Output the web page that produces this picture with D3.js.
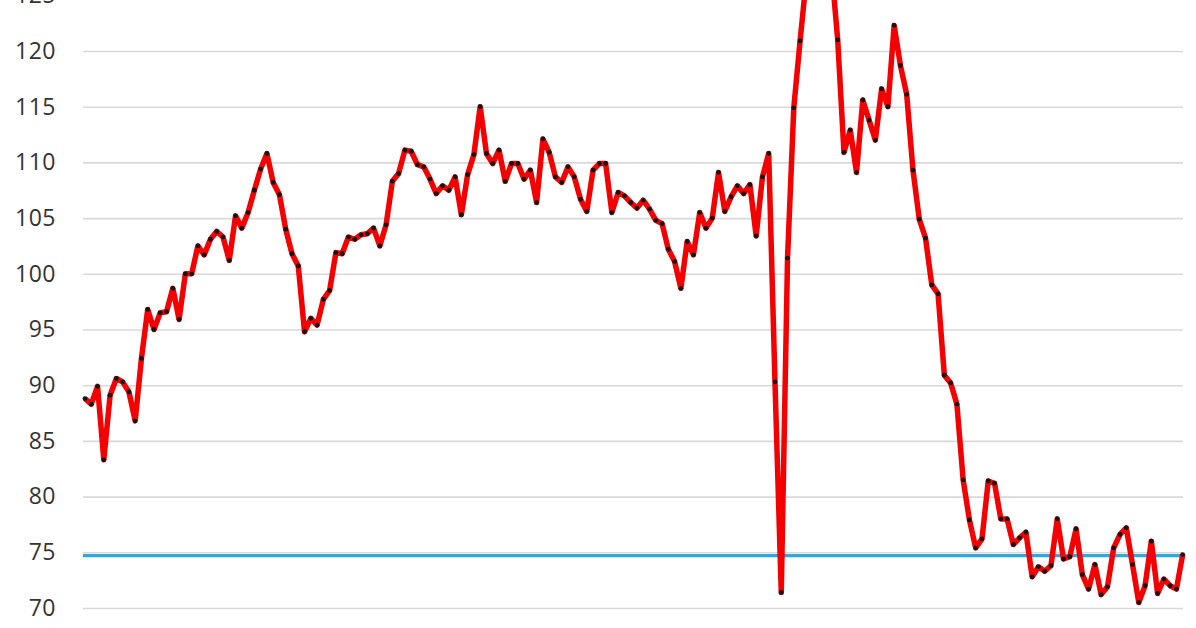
<!DOCTYPE html>
<html>
<head>
<meta charset="utf-8">
<script src="https://cdn.jsdelivr.net/npm/d3@7"></script>
<style>
  html,body{margin:0;padding:0;background:#fff;overflow:hidden;}
  svg{display:block;}
  .grid line{stroke:#d9d9d9;stroke-width:1.6;}
  .grid text{font-family:"Open Sans",sans-serif;font-size:23px;fill:#333;letter-spacing:0.5px;}
</style>
</head>
<body>
<svg width="1196" height="628"></svg>
<script>
// monthly index values (points 116-120 run above the visible frame)
var values=[
  88.8,88.3,89.9,83.3,89.1,90.6,90.3,89.4,86.8,92.4,
  96.8,95.0,96.5,96.6,98.7,95.9,100.0,100.0,102.5,101.7,
  103.1,103.8,103.3,101.2,105.2,104.1,105.5,107.5,109.4,110.8,
  108.2,107.1,104.0,101.8,100.7,94.8,96.0,95.4,97.7,98.5,
  101.9,101.8,103.3,103.1,103.5,103.6,104.1,102.5,104.4,108.3,
  109.0,111.1,111.0,109.8,109.6,108.5,107.2,107.9,107.5,108.7,
  105.3,108.9,110.7,115.0,110.8,109.9,111.1,108.3,109.9,109.9,
  108.5,109.3,106.4,112.1,110.9,108.7,108.2,109.6,108.7,106.7,
  105.6,109.3,109.9,109.9,105.5,107.3,107.0,106.4,105.9,106.6,
  105.8,104.8,104.5,102.2,101.1,98.7,102.9,101.7,105.5,104.1,
  105.0,109.1,105.6,106.9,107.9,107.2,108.0,103.4,108.7,110.8,
  90.3,71.4,101.4,114.9,120.9,126.5,128.5,128.0,128.5,127.5,
  121.0,110.9,112.9,109.1,115.6,113.8,112.0,116.6,115.0,122.3,
  118.7,116.1,109.3,104.9,103.2,99.0,98.2,90.9,90.2,88.3,
  81.5,77.9,75.4,76.2,81.4,81.2,78.0,78.0,75.7,76.3,
  76.8,72.8,73.7,73.3,73.8,78.0,74.4,74.6,77.1,73.0,
  71.7,73.9,71.2,71.9,75.4,76.6,77.2,73.9,70.5,72.0,
  76.0,71.3,72.6,72.0,71.7,74.8
];
var yTicks=[70,75,80,85,90,95,100,105,110,115,120,125];
var reference=74.7;

var drawChart=function(){
  let svg=d3.select('svg');
  let left=83, right=1183;

  let x=d3.scaleLinear()
    .domain([0,values.length-1])
    .range([85,1182.7]);
  let y=d3.scaleLinear()
    .domain([70,120])
    .range([608,51]);

  // gridlines + labels
  let gridAxis=d3.axisLeft(y)
    .tickValues(yTicks)
    .tickSize(-(right-left))
    .tickPadding(27)
    .tickFormat(d3.format('d'));
  let grid=svg.append('g')
    .attr('class','grid')
    .attr('transform','translate('+left+',0)')
    .call(gridAxis);
  grid.select('.domain').remove();

  // reference line
  svg.append('line')
    .attr('x1',left).attr('x2',right)
    .attr('y1',y(reference)).attr('y2',y(reference))
    .attr('stroke','#2fa8de')
    .attr('stroke-width',3.2);

  let line=d3.line()
    .x(function(d,i){return x(i);})
    .y(function(d){return y(d);});

  svg.append('path')
    .datum(values)
    .attr('d',line)
    .attr('fill','none')
    .attr('stroke','#f50000')
    .attr('stroke-width',5.5)
    .attr('stroke-linejoin','round');

  svg.selectAll('circle.pt')
    .data(values)
    .enter()
    .append('circle')
    .attr('class','pt')
    .attr('cx',function(d,i){return x(i);})
    .attr('cy',function(d){return y(d);})
    .attr('r',2.4)
    .attr('fill','#141414');
};
drawChart();
</script>
</body>
</html>
